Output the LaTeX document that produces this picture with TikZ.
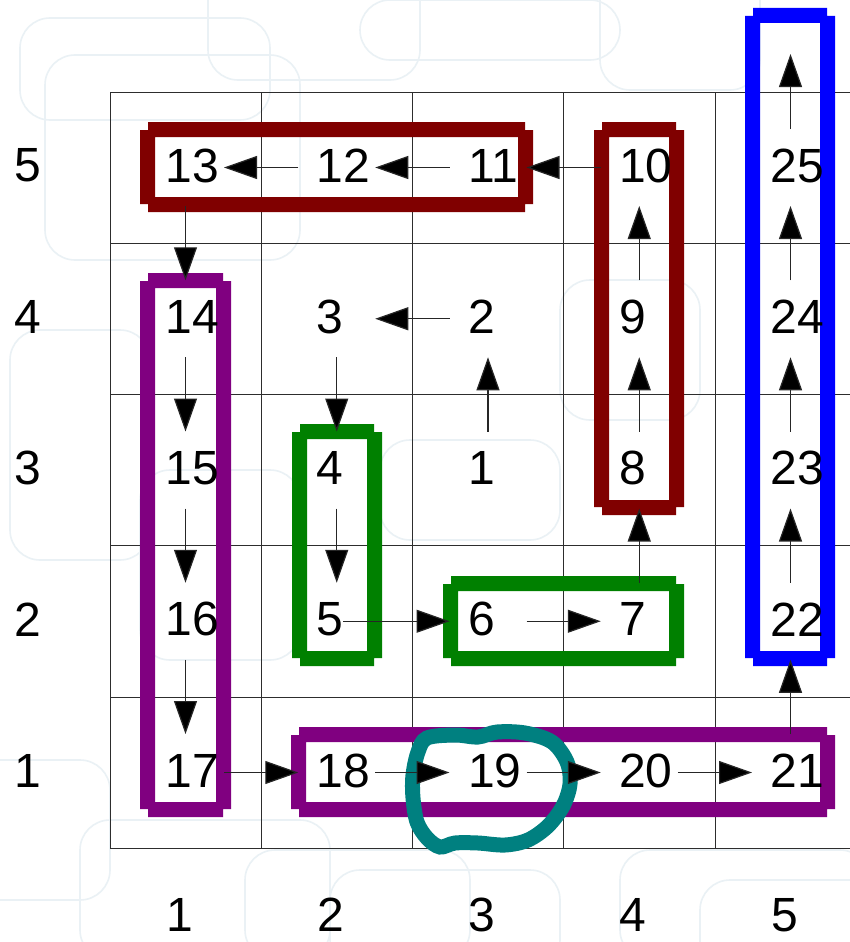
\documentclass[tikz,border=0pt]{standalone}
\usepackage{fontspec}
\setmainfont{Liberation Sans}
\usetikzlibrary{arrows.meta}
\definecolor{maroonc}{RGB}{128,0,0}
\definecolor{purplec}{RGB}{128,0,128}
\definecolor{greenc}{RGB}{0,128,0}
\definecolor{bluec}{RGB}{0,0,255}
\definecolor{tealc}{RGB}{0,128,128}
\definecolor{bgline}{RGB}{234,241,245}
\definecolor{gridc}{RGB}{45,45,45}
\newcommand{\grpbox}[5]{%
  \fill[#1,even odd rule] (#2+8,#3) -- (#4-8,#3) -- ++(0,8) -- ++(8,0) -- (#4,#5-8) -- ++(-8,0) -- ++(0,8)
    -- (#2+8,#5) -- ++(0,-8) -- ++(-8,0) -- (#2,#3+8) -- ++(8,0) -- cycle
    (#2+15,#3+15) rectangle (#4-15,#5-15);}
\begin{document}
\begin{tikzpicture}[x=1pt,y=-1pt,
  cellpt/.style={minimum width=77pt,minimum height=77pt,inner sep=0pt,outer sep=0pt},
  num/.style={anchor=west,inner sep=0pt,outer sep=0pt,font=\fontsize{48}{50}\selectfont},
  axislbl/.style={inner sep=0pt,outer sep=0pt,font=\fontsize{48}{50}\selectfont},
  arr/.style={draw=black!85,line width=1.2pt,-{Triangle[length=33pt,width=23pt,fill=black]}},
  gridline/.style={draw=gridc,line width=1pt},
  bgdeco/.style={draw=bgline,line width=1.6pt,rounded corners=30pt}]
\useasboundingbox (0,0) rectangle (850,942);
\fill[white] (0,0) rectangle (850,942);
% faint background pattern
\draw[bgdeco] (20,18) rectangle (270,120);
\draw[bgdeco] (45,55) rectangle (300,260);
\draw[bgdeco] (208,-40) rectangle (420,80);
\draw[bgdeco] (360,0) rectangle (620,60);
\draw[bgdeco] (600,-30) rectangle (760,90);
\draw[bgdeco] (10,330) rectangle (150,560);
\draw[bgdeco] (140,470) rectangle (300,660);
\draw[bgdeco] (-40,760) rectangle (110,900);
\draw[bgdeco] (80,820) rectangle (330,960);
\draw[bgdeco] (245,850) rectangle (470,960);
\draw[bgdeco] (330,870) rectangle (560,970);
\draw[bgdeco] (620,850) rectangle (870,960);
\draw[bgdeco] (700,880) rectangle (900,990);
\draw[bgdeco] (560,280) rectangle (700,420);
\draw[bgdeco] (380,440) rectangle (560,540);
% grid
\foreach \i in {0,...,4} \draw[gridline] (110+151.25*\i,92) -- (110+151.25*\i,848.25);
\foreach \j in {0,...,5} \draw[gridline] (110,92+151.25*\j) -- (850,92+151.25*\j);
% group boxes
\grpbox{maroonc}{140}{122}{533}{212}
\grpbox{maroonc}{594}{122}{684}{515}
\grpbox{bluec}{745}{8}{835}{666}
\grpbox{purplec}{140}{273}{231}{817}
\grpbox{purplec}{291}{727}{835}{817}
\grpbox{greenc}{292}{424}{382}{666}
\grpbox{greenc}{443}{576}{684}{666}
% teal loop around 19
\draw[tealc,line width=15pt] plot[smooth cycle,tension=0.55] coordinates {
  (427,738) (455,735) (478,737) (497,732) (525,733) (552,742) (567,762) (570,784)
  (563,806) (548,826) (528,840) (505,845) (478,843) (455,843) (440,847) (427,838)
  (417,822) (413,798) (413,775) (418,752)};
% cells and numbers
\foreach \n/\c/\r in {1/3/3,2/3/4,3/2/4,4/2/3,5/2/2,6/3/2,7/4/2,8/4/3,9/4/4,10/4/5,
  11/3/5,12/2/5,13/1/5,14/1/4,15/1/3,16/1/2,17/1/1,18/2/1,19/3/1,20/4/1,21/5/1,
  22/5/2,23/5/3,24/5/4,25/5/5} {
  \node[cellpt] (k\n) at (34.25+151.25*\c,923.75-151.25*\r) {};
  \node[num] (n\n) at (14.25+151.25*\c,921.75-151.25*\r) {\n};
}
\coordinate (top) at (790.5,54);
% connectors
\draw[arr] (k1.north) -- (k2.south);
\draw[arr] (k2.west) -- (k3.east);
\draw[arr] (k3.south) -- (k4.north);
\draw[arr] (k4.south) -- (k5.north);
\draw[arr] (n5.east |- k6.west) -- (k6.west);
\draw[arr] (k6.east) -- (k7.west);
\draw[arr] (k7.north) -- (k8.south);
\draw[arr] (k8.north) -- (k9.south);
\draw[arr] (k9.north) -- (k10.south);
\draw[arr] (k10.west) -- (k11.east);
\draw[arr] (k11.west) -- (k12.east);
\draw[arr] (k12.west) -- (k13.east);
\draw[arr] (k13.south) -- (k14.north);
\draw[arr] (k14.south) -- (k15.north);
\draw[arr] (k15.south) -- (k16.north);
\draw[arr] (k16.south) -- (k17.north);
\draw[arr] (k17.east) -- (k18.west);
\draw[arr] (k18.east) -- (k19.west);
\draw[arr] (k19.east) -- (k20.west);
\draw[arr] (k20.east) -- (k21.west);
\draw[arr] (k21.north) -- (k22.south);
\draw[arr] (k22.north) -- (k23.south);
\draw[arr] (k23.north) -- (k24.south);
\draw[arr] (k24.north) -- (k25.south);
\draw[arr] (k25.north) -- (top);
% axis labels
\foreach \r in {1,...,5} \node[axislbl] (row\r) at (28,921.75-151.25*\r) {\r};
\foreach \c in {1,...,5} \node[axislbl] (col\c) at (28.25+151.25*\c,915) {\c};
\end{tikzpicture}
\end{document}
